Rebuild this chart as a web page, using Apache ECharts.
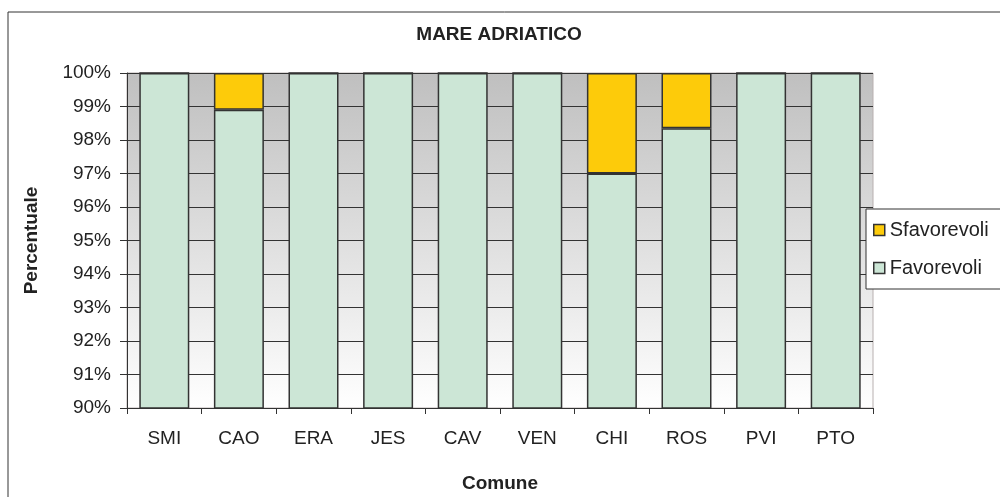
<!DOCTYPE html>
<html>
<head>
<meta charset="utf-8">
<script src="https://cdn.jsdelivr.net/npm/echarts@6/dist/echarts.min.js"></script>
<style>
  html, body { margin: 0; padding: 0; background: #fff; }
  #chart { width: 1000px; height: 497px; }
</style>
</head>
<body>
<div id="chart"></div>
<script>
// comuni lungo il mare adriatico
const categories = ['SMI', 'CAO', 'ERA', 'JES', 'CAV', 'VEN', 'CHI', 'ROS', 'PVI', 'PTO'];
const favorevoli = [100, 98.9, 100, 100, 100, 100, 97.0, 98.35, 100, 100];
const sfavorevoli = [0, 1.1, 0, 0, 0, 0, 3.0, 1.65, 0, 0];
const yTicks = [90, 91, 92, 93, 94, 95, 96, 97, 98, 99, 100];

const font = 'Liberation Sans, Arial, sans-serif';
const chart = echarts.init(document.getElementById('chart'));

chart.setOption({
    animation: false,
    title: {
        text: 'MARE ADRIATICO',
        left: 494,
        top: 20,
        textAlign: 'center',
        textStyle: { fontFamily: font, fontSize: 19, fontWeight: 'bold', color: '#222' }
    },
    graphic: [{
        type: 'rect',
        shape: { x: 8, y: 12, width: 1000, height: 500 },
        style: { fill: 'none', stroke: '#333', lineWidth: 1 },
        silent: true
    }],
    legend: {
        left: 866,
        top: 209,
        orient: 'vertical',
        icon: 'rect',
        itemGap: 18,
        itemWidth: 11,
        itemHeight: 11,
        padding: [11, 30, 11, 7],
        backgroundColor: '#fff',
        borderColor: '#333',
        borderWidth: 1,
        textStyle: { fontFamily: font, fontSize: 20, color: '#222' },
        data: [
            { name: 'Sfavorevoli', itemStyle: { borderColor: '#333', borderWidth: 1.5 } },
            { name: 'Favorevoli', itemStyle: { borderColor: '#333', borderWidth: 1.5 } }
        ]
    },
    grid: {
        left: 127,
        right: 127,
        top: 73,
        bottom: 89,
        outerBoundsMode: 'none',
        containLabel: false,
        show: true,
        borderColor: '#b8b0b0',
        borderWidth: 1,
        backgroundColor: new echarts.graphic.LinearGradient(0, 0, 0, 1, [
            { offset: 0, color: '#bfbfbf' },
            { offset: 1, color: '#ffffff' }
        ])
    },
    xAxis: {
        type: 'category',
        data: categories,
        name: 'Comune',
        nameLocation: 'middle',
        nameGap: 66,
        nameTextStyle: { fontFamily: font, fontSize: 19, fontWeight: 'bold', color: '#222' },
        axisLine: { lineStyle: { color: '#333', width: 1 } },
        axisTick: { show: true, length: 6, lineStyle: { color: '#333' } },
        axisLabel: { fontFamily: font, fontSize: 19, color: '#222', margin: 21 }
    },
    yAxis: {
        type: 'value',
        min: yTicks[0],
        max: yTicks[yTicks.length - 1],
        interval: 1,
        name: 'Percentuale',
        nameLocation: 'middle',
        nameGap: 86,
        nameRotate: 90,
        nameTextStyle: { fontFamily: font, fontSize: 19, fontWeight: 'bold', color: '#222' },
        axisLine: { show: true, lineStyle: { color: '#333', width: 1 } },
        axisTick: { show: true, length: 7, lineStyle: { color: '#333' } },
        axisLabel: { fontFamily: font, fontSize: 19, color: '#222', margin: 16, formatter: '{value}%' },
        splitLine: { show: true, lineStyle: { color: '#333', width: 1 } }
    },
    series: [
        {
            name: 'Favorevoli',
            type: 'bar',
            stack: 'tot',
            barWidth: 50,
            data: favorevoli,
            itemStyle: { color: '#cce6d6', borderColor: '#333', borderWidth: 1.5 }
        },
        {
            name: 'Sfavorevoli',
            type: 'bar',
            stack: 'tot',
            barWidth: 50,
            data: sfavorevoli,
            itemStyle: { color: '#fdcb0a', borderColor: '#333', borderWidth: 1.5 }
        }
    ]
});
</script>
</body>
</html>
